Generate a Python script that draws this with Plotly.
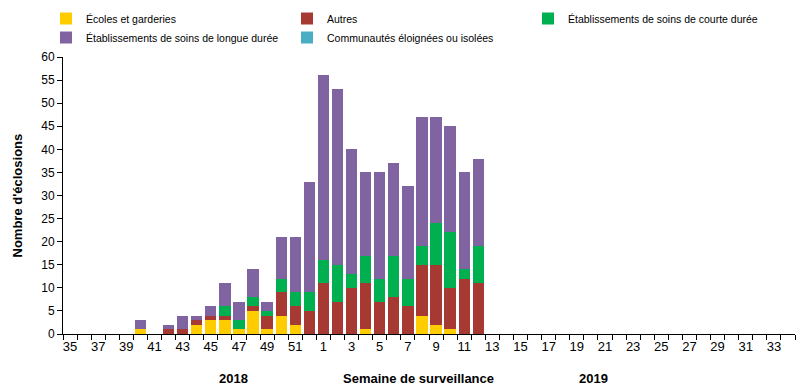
import plotly.graph_objects as go

weeks = ["35", "36", "37", "38", "39", "40", "41", "42", "43", "44", "45", "46",
         "47", "48", "49", "50", "51", "52",
         "1", "2", "3", "4", "5", "6", "7", "8", "9", "10", "11", "12", "13", "14",
         "15", "16", "17", "18", "19", "20", "21", "22", "23", "24", "25", "26",
         "27", "28", "29", "30", "31", "32", "33", "34"]

ecoles = [0, 0, 0, 0, 0, 1, 0, 0, 0, 2, 3, 3, 1, 5, 1, 4, 2, 0,
          0, 0, 0, 1, 0, 0, 0, 4, 2, 1, 0, 0] + [0] * 22
autres = [0, 0, 0, 0, 0, 0, 0, 1, 1, 1, 1, 1, 0, 1, 3, 5, 4, 5,
          11, 7, 10, 10, 7, 8, 6, 11, 13, 9, 12, 11] + [0] * 22
courte = [0, 0, 0, 0, 0, 0, 0, 0, 0, 0, 0, 2, 2, 2, 1, 3, 3, 4,
          5, 8, 3, 6, 5, 9, 6, 4, 9, 12, 2, 8] + [0] * 22
longue = [0, 0, 0, 0, 0, 2, 0, 1, 3, 1, 2, 5, 4, 6, 2, 9, 12, 24,
          40, 38, 27, 18, 23, 20, 20, 28, 23, 23, 21, 19] + [0] * 22
communautes = [0] * 52

tick_labels = ["35", "", "37", "", "39", "", "41", "", "43", "", "45", "", "47", "",
               "49", "", "51", "", "1", "", "3", "", "5", "", "7", "", "9", "",
               "11", "", "13", "", "15", "", "17", "", "19", "", "21", "", "23", "",
               "25", "", "27", "", "29", "", "31", "", "33", ""]

series = [
    ("Écoles et garderies", ecoles, "#FFCC00"),
    ("Autres", autres, "#A63A32"),
    ("Établissements de soins de courte durée", courte, "#00B050"),
    ("Établissements de soins de longue durée", longue, "#8064A2"),
    ("Communautés éloignées ou isolées", communautes, "#4BACC6"),
]

fig = go.Figure()
for name, vals, col in series:
    fig.add_trace(go.Bar(x=weeks, y=vals, name=name, marker=dict(color=col, line=dict(width=0))))

narrow = "Liberation Sans Narrow, Arial Narrow, Liberation Sans, Arial, sans-serif"
fig.update_layout(
    barmode="stack",
    bargap=0.2,
    width=797, height=378,
    margin=dict(l=55, r=10, t=49, b=52, autoexpand=False),
    paper_bgcolor="white", plot_bgcolor="white",
    font=dict(family="Liberation Sans, Arial, sans-serif", size=12, color="#000"),
    showlegend=True,
    legend=dict(orientation="h", x=0.0477, xanchor="left", xref="container",
                y=1.1913, yanchor="top", yref="paper",
                entrywidth=196, traceorder="normal",
                font=dict(family=narrow, size=10.5), itemwidth=30,
                tracegroupgap=0, bgcolor="rgba(0,0,0,0)"),
    xaxis=dict(type="category", tickmode="array", tickvals=weeks, ticktext=tick_labels,
               tickson="boundaries", ticks="outside", ticklen=5, tickcolor="#000",
               showline=True, linecolor="#000", linewidth=1, showgrid=False, automargin=False,
               tickfont=dict(family=narrow, size=13), tickangle=0, range=[-0.5, 51.5]),
    yaxis=dict(range=[0, 60], dtick=5, ticks="outside", ticklen=5, tickcolor="#000",
               showline=True, linecolor="#000", linewidth=1, showgrid=False, automargin=False,
               zeroline=False, tickfont=dict(size=12)),
    annotations=[
        dict(text="<b>Nombre d'éclosions</b>", xref="paper", yref="paper", x=-0.0615, y=0.5,
             textangle=-90, showarrow=False, xanchor="center", yanchor="middle",
             font=dict(family=narrow, size=13)),
        dict(text="<b>2018</b>", xref="paper", yref="paper", x=0.2336, y=-0.159,
             showarrow=False, xanchor="center", yanchor="middle", font=dict(family=narrow, size=13)),
        dict(text="<b>Semaine de surveillance</b>", xref="paper", yref="paper", x=0.485, y=-0.159,
             showarrow=False, xanchor="center", yanchor="middle", font=dict(family=narrow, size=13)),
        dict(text="<b>2019</b>", xref="paper", yref="paper", x=0.7254, y=-0.159,
             showarrow=False, xanchor="center", yanchor="middle", font=dict(family=narrow, size=13)),
    ],
)

fig.write_html("out.html")
